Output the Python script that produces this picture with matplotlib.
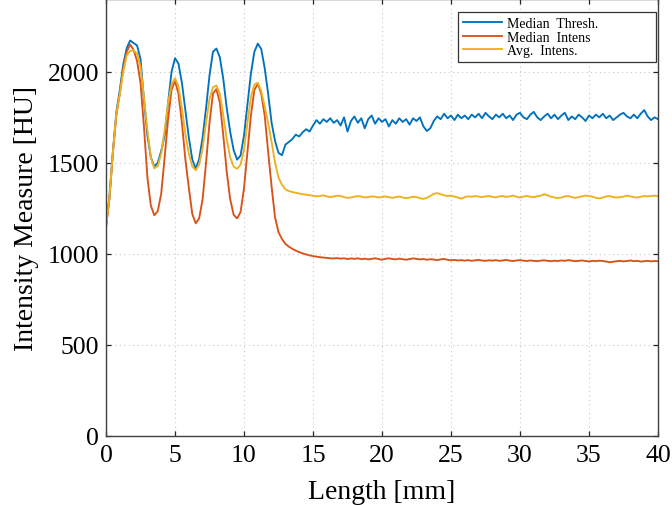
import matplotlib
matplotlib.use('Agg')
import matplotlib.pyplot as plt
import numpy as np

# fonts
plt.rcParams['font.family'] = ['Liberation Serif', 'DejaVu Serif']
plt.rcParams['font.size'] = 18

# data: sampled every 0.25 mm from 0 to 40 mm
length = np.linspace(0, 40, 161)

median_thresh = [
    1150, 1320, 1560, 1780, 1900, 2040, 2130, 2172, 2158, 2145,
    2070, 1850, 1650, 1530, 1480, 1500, 1565, 1650, 1830, 2000,
    2075, 2045, 1940, 1790, 1640, 1520, 1468, 1520, 1640, 1800,
    1980, 2110, 2128, 2080, 1960, 1800, 1670, 1570, 1518, 1540,
    1650, 1820, 1990, 2110, 2155, 2125, 2020, 1880, 1720, 1620,
    1555, 1542, 1600,
    1615, 1630, 1655, 1645, 1668, 1685, 1672, 1705,
    1735, 1715, 1740, 1725, 1745, 1720, 1735, 1705, 1750, 1672,
    1730, 1755, 1720, 1745, 1690, 1740, 1760, 1715, 1745, 1725,
    1740, 1700, 1735, 1715, 1745, 1725, 1740, 1710, 1745, 1730,
    1750, 1700, 1675, 1690, 1730, 1755, 1740, 1770, 1745, 1760,
    1735, 1765, 1745, 1760, 1740, 1765, 1750, 1770, 1745, 1775,
    1755, 1740, 1765, 1750, 1770, 1745, 1760, 1735, 1765, 1775,
    1750, 1740, 1765, 1780, 1750, 1735, 1755, 1770, 1745, 1765,
    1740, 1760, 1775, 1735, 1755, 1740, 1765, 1750, 1730, 1760,
    1745, 1765, 1750, 1770, 1745, 1760, 1735, 1750, 1765, 1775,
    1755, 1745, 1765, 1745, 1770, 1790, 1755, 1735, 1750, 1740,
]

median_intens = [
    1150, 1300, 1560, 1760, 1880, 2020, 2110, 2150, 2120, 2060,
    1940, 1700, 1420, 1265, 1212, 1235, 1330, 1530, 1740, 1900,
    1950, 1880, 1720, 1520, 1365, 1220, 1168, 1195, 1300, 1500,
    1720, 1880, 1905, 1830, 1650, 1450, 1300, 1215, 1195, 1230,
    1360, 1560, 1760, 1900, 1935, 1880, 1760, 1560, 1370, 1200,
    1120, 1082, 1055,
    1040, 1028, 1018, 1010, 1003, 997, 992, 988,
    985, 982, 980, 978, 976, 975, 977, 974, 976, 972,
    975, 973, 976, 971, 974, 970, 973, 976, 972, 968,
    973, 976, 972, 970, 974, 971, 968, 972, 975, 973,
    970, 972, 968, 971, 969, 966, 970, 972, 968, 965,
    967, 964, 966, 963, 966, 962, 965, 967, 964, 962,
    965, 963, 966, 962, 964, 967, 963, 961, 964, 966,
    963, 961, 964, 962, 960, 963, 965, 962, 960, 963,
    961, 964, 962, 966, 963, 960, 962, 964, 961, 959,
    962, 960, 963, 961, 958, 954, 957, 960, 962, 959,
    961, 964, 960, 962, 958, 960, 962, 959, 961, 960,
]

avg_intens = [
    1145, 1310, 1560, 1770, 1880, 2000, 2090, 2115, 2118, 2100,
    2030, 1860, 1680, 1530, 1470, 1482, 1550, 1680, 1830, 1930,
    1965, 1920, 1800, 1660, 1550, 1480, 1460, 1490, 1580, 1720,
    1850, 1915, 1925, 1880, 1760, 1630, 1530, 1480, 1467, 1490,
    1570, 1720, 1860, 1930, 1940, 1895, 1810, 1720, 1615, 1500,
    1420, 1380, 1355,
    1345, 1340, 1336, 1332, 1328, 1325, 1322, 1320,
    1316, 1318, 1322, 1316, 1312, 1315, 1320, 1318, 1312, 1308,
    1310, 1314, 1318, 1315, 1310, 1312, 1316, 1314, 1310, 1312,
    1316, 1312, 1308, 1312, 1315, 1310, 1306, 1310, 1314, 1312,
    1306, 1302, 1308, 1318, 1330, 1334, 1328, 1322, 1318, 1320,
    1315, 1310, 1303, 1312, 1316, 1314, 1318, 1315, 1312, 1316,
    1318, 1314, 1310, 1316, 1318, 1313, 1316, 1320, 1314, 1310,
    1315, 1318, 1314, 1312, 1316, 1320, 1328, 1322, 1314, 1310,
    1306, 1310, 1316, 1318, 1312, 1308, 1312, 1316, 1320, 1318,
    1314, 1308, 1305, 1310, 1316, 1318, 1312, 1310, 1312, 1315,
    1320, 1316, 1312, 1310, 1314, 1318, 1316, 1318, 1320, 1318,
]

labels = ['Median  Thresh.', 'Median  Intens', 'Avg.  Intens.']
colors = ['#0072BD', '#D95319', '#EDB120']

fig = plt.figure(figsize=(6.72, 5.06), dpi=100)
ax = fig.add_axes([106 / 672, 69 / 506, 552 / 672, 437 / 506])

for ys, lab, c in zip([median_thresh, median_intens, avg_intens], labels, colors):
    ax.plot(length, ys, color=c, linewidth=1.35, label=lab)

ax.set_xlim(0, 40)
ax.set_ylim(0, 2400)
ax.set_xticks(np.arange(0, 41, 5))
ax.set_yticks(np.arange(0, 2001, 500))

ax.grid(True, linestyle=(0, (1, 3)), color='#c8c8c8', linewidth=0.8)
ax.tick_params(direction='in', top=True, right=True, length=3.6, width=0.9,
               color='#262626', labelsize=18.5)
ax.tick_params(axis='x', pad=6)
ax.tick_params(axis='y', pad=5)
for sp in ax.spines.values():
    sp.set_color('#404040')
    sp.set_linewidth(1.0)

ax.set_xlabel('Length [mm]', fontsize=20, labelpad=9)
ax.set_ylabel('Intensity Measure [HU]', fontsize=20, labelpad=6)

leg = ax.legend(loc='upper left', bbox_to_anchor=(352 / 552, 1 - 13 / 437, 198 / 552, 0.0),
                mode='expand', borderaxespad=0, fontsize=10, handlelength=2.8,
                handletextpad=0.4, borderpad=0.35, labelspacing=0.05,
                fancybox=False, framealpha=1)
leg.get_frame().set_edgecolor('#333333')
leg.get_frame().set_linewidth(0.9)

fig.savefig('out.png', dpi=100)
